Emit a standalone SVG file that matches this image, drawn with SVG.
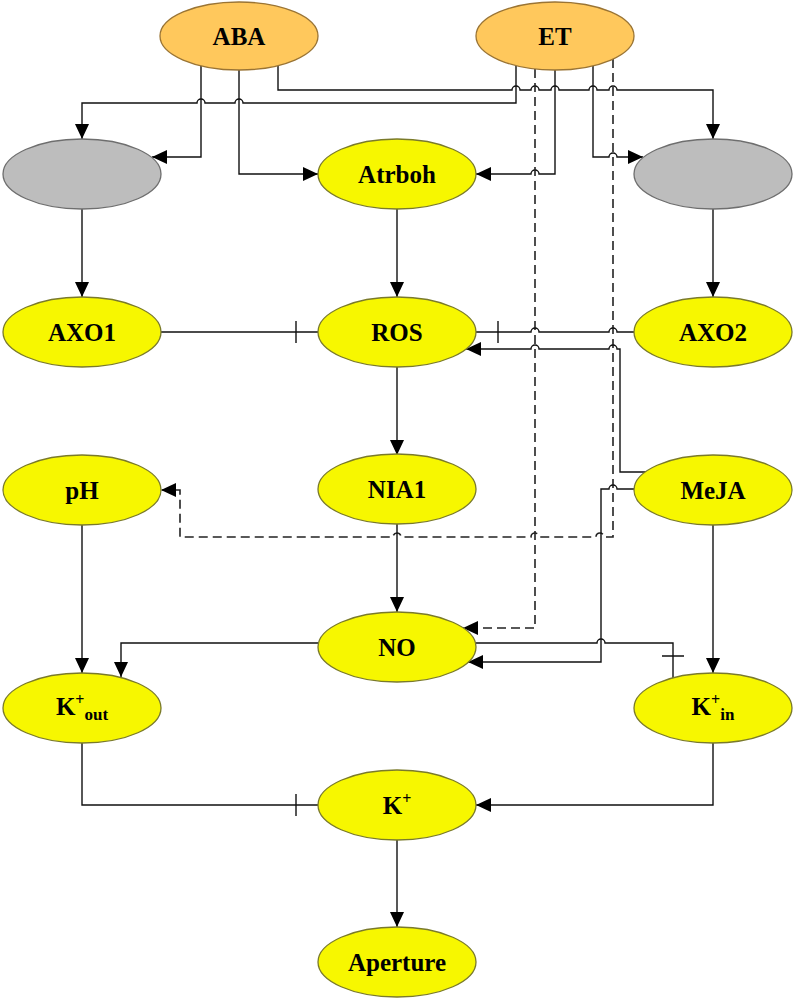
<svg xmlns="http://www.w3.org/2000/svg" width="794" height="1003" viewBox="0 0 794 1003">
<style>
.e{stroke-width:1.3}
.y{fill:#F7F700;stroke:#7A7A2A}
.o{fill:#FFC85C;stroke:#9A7434}
.g{fill:#BDBDBD;stroke:#6E6E6E}
.t{font-family:"Liberation Serif","Times New Roman",serif;font-weight:bold;font-size:25px;text-anchor:middle;fill:#000}
.c{fill:none;stroke:#111;stroke-width:1.4}
.a{marker-end:url(#arr)}
.d{stroke-dasharray:9,5;stroke:#222;stroke-width:1.6}
</style>
<defs>
<marker id="arr" markerUnits="userSpaceOnUse" markerWidth="16" markerHeight="14" refX="15" refY="7" orient="auto">
<path d="M0,0 L15,7 L0,14 z" fill="#000"/>
</marker>
</defs>
<g id="connectors">
<path class="c a" d="M278,66 V90 H512 A4,4 0 0 1 520,90 H531 A4,4 0 0 1 539,90 H551 A4,4 0 0 1 559,90 H589 A4,4 0 0 1 597,90 H609 A4,4 0 0 1 617,90 H713 V139"/>
<path class="c a" d="M516,66 V103 H243 A4,4 0 0 0 235,103 H205 A4,4 0 0 0 197,103 H82 V139"/>
<path class="c a" d="M201,66 V157 H152"/>
<path class="c a" d="M239,70 V174 H318"/>
<path class="c a" d="M555,70 V174 H539 A4,4 0 0 0 531,174 H476"/>
<path class="c a" d="M593,66 V157 H609 A4,4 0 0 1 617,157 H643"/>
<path class="c d a" d="M535,69 V628 H463"/>
<path class="c d a" d="M613,59 V537 H604 A4,4 0 0 0 596,537 H539 A4,4 0 0 0 531,537 H401 A4,4 0 0 0 393,537 H180 V490 H161"/>
<path class="c a" d="M648,472 H620 V349 H617 A4,4 0 0 0 609,349 H539 A4,4 0 0 0 531,349 H466"/>
<path class="c" d="M634,332 H617 A4,4 0 0 0 609,332 H539 A4,4 0 0 0 531,332 H476 M498,321 V343"/>
<path class="c" d="M161,332 H318 M296,321 V343"/>
<path class="c a" d="M634,489 H617 A4,4 0 0 0 609,489 H601 V662 H468"/>
<path class="c" d="M476,643 H597 A4,4 0 0 1 605,643 H673 V680 M662,656 H684"/>
<path class="c a" d="M713,525 V673"/>
<path class="c a" d="M318,643 H121 V677"/>
<path class="c a" d="M82,525 V673"/>
<path class="c" d="M82,743 V805 H318 M296,794 V816"/>
<path class="c a" d="M713,743 V805 H476"/>
<path class="c a" d="M397,840 V927"/>
<path class="c a" d="M397,209 V297"/>
<path class="c a" d="M397,367 V455"/>
<path class="c a" d="M397,524 V612"/>
<path class="c a" d="M82,209 V297"/>
<path class="c a" d="M713,209 V297"/>
</g>
<g id="ABA"><ellipse class="e o" cx="239" cy="36" rx="79" ry="34"/><text class="t" x="239" y="45">ABA</text></g>
<g id="ET"><ellipse class="e o" cx="555" cy="36" rx="79" ry="34"/><text class="t" x="555" y="45">ET</text></g>
<g id="grayL"><ellipse class="e g" cx="82" cy="174" rx="79" ry="35"/></g>
<g id="Atrboh"><ellipse class="e y" cx="397" cy="174" rx="79" ry="35"/><text class="t" x="397" y="183">Atrboh</text></g>
<g id="grayR"><ellipse class="e g" cx="713" cy="174" rx="79" ry="35"/></g>
<g id="AXO1"><ellipse class="e y" cx="82" cy="332" rx="79" ry="35"/><text class="t" x="82" y="341">AXO1</text></g>
<g id="ROS"><ellipse class="e y" cx="397" cy="332" rx="79" ry="35"/><text class="t" x="397" y="341">ROS</text></g>
<g id="AXO2"><ellipse class="e y" cx="713" cy="332" rx="79" ry="35"/><text class="t" x="713" y="341">AXO2</text></g>
<g id="pH"><ellipse class="e y" cx="82" cy="490" rx="79" ry="35"/><text class="t" x="82" y="499">pH</text></g>
<g id="NIA1"><ellipse class="e y" cx="397" cy="489" rx="79" ry="35"/><text class="t" x="397" y="498">NIA1</text></g>
<g id="MeJA"><ellipse class="e y" cx="713" cy="490" rx="79" ry="35"/><text class="t" x="713" y="499">MeJA</text></g>
<g id="NO"><ellipse class="e y" cx="397" cy="647" rx="79" ry="35"/><text class="t" x="397" y="656">NO</text></g>
<g id="Kout"><ellipse class="e y" cx="82" cy="708" rx="79" ry="35"/><text class="t" x="82" y="715">K<tspan dy="-10" font-size="16">+</tspan><tspan dy="15" font-size="17">out</tspan></text></g>
<g id="Kin"><ellipse class="e y" cx="713" cy="708" rx="79" ry="35"/><text class="t" x="713" y="715">K<tspan dy="-10" font-size="16">+</tspan><tspan dy="15" font-size="17">in</tspan></text></g>
<g id="Kplus"><ellipse class="e y" cx="397" cy="805" rx="79" ry="35"/><text class="t" x="397" y="814">K<tspan dy="-10" font-size="16">+</tspan></text></g>
<g id="Aperture"><ellipse class="e y" cx="397" cy="962" rx="79" ry="35"/><text class="t" x="397" y="971">Aperture</text></g>
</svg>
